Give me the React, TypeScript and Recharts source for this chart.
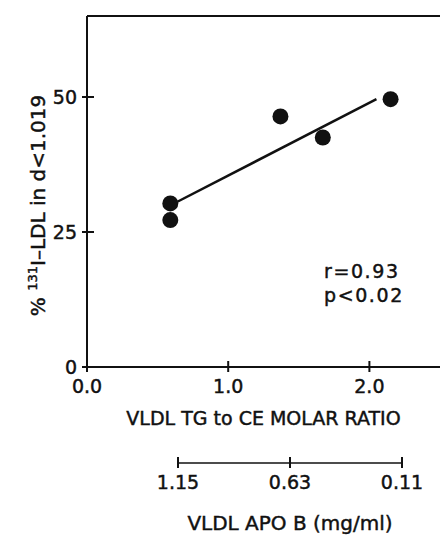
import React from "react";
import {
  ScatterChart,
  Scatter,
  XAxis,
  YAxis,
  ReferenceLine,
} from "recharts";

// measured points
const ratioX = [0.59, 0.59, 1.37, 1.67, 2.15];
const ldlPct = [30.3, 27.2, 46.4, 42.5, 49.6];

// regression line end points
const fitX = [0.64, 2.05];
const fitY = [30.6, 49.6];

const xTicks = [0, 1, 2];
const yTicks = [0, 25, 50];
const apoTicks = [0.11, 0.63, 1.15];

const points = ratioX.map((x, i) => ({ x, y: ldlPct[i] }));
const fitSegment = fitX.map((x, i) => ({ x, y: fitY[i] }));

const INK = "#111";
const FONT = "DejaVu Sans";
const BOLDISH = { stroke: INK, strokeWidth: 0.45 };

function BottomTick(props: any) {
  const { x, y, payload, digits } = props;
  return (
    <g>
      <line x1={x} x2={x} y1={y - 6} y2={y + 5} stroke={INK} strokeWidth={2} />
      <text
        x={x}
        y={y + 26}
        textAnchor="middle"
        fontFamily={FONT}
        fontSize={19}
        fill={INK}
        {...BOLDISH}
      >
        {Number(payload.value).toFixed(digits)}
      </text>
    </g>
  );
}

function LeftTick(props: any) {
  const { x, y, payload } = props;
  return (
    <g>
      <line x1={x - 5} x2={x + 7} y1={y} y2={y} stroke={INK} strokeWidth={2} />
      <text
        x={x - 10}
        y={y + 7}
        textAnchor="end"
        fontFamily={FONT}
        fontSize={19}
        fill={INK}
        {...BOLDISH}
      >
        {payload.value}
      </text>
    </g>
  );
}

function YLabel(props: any) {
  const vb = props.viewBox || { x: 0, y: 17, width: 87, height: 350 };
  const cx = vb.x + 45;
  const cy = vb.y + vb.height / 2 + 14;
  return (
    <text
      x={cx}
      y={cy}
      transform={`rotate(-90, ${cx}, ${cy})`}
      textAnchor="middle"
      fontFamily={FONT}
      fontSize={20}
      fill={INK}
      {...BOLDISH}
    >
      <tspan>% </tspan>
      <tspan fontSize={13} dy={-8}>131</tspan>
      <tspan dy={8}>I–LDL in d&lt;1.019</tspan>
    </text>
  );
}

const dot = (p: any) => <circle cx={p.cx} cy={p.cy} r={8} fill={INK} />;

export default function App() {
  return (
    <div
      style={{
        position: "absolute",
        left: 0,
        top: 0,
        width: 440,
        height: 538,
        background: "#fff",
      }}
    >
      <div style={{ position: "absolute", left: 0, top: 0 }}>
        <ScatterChart
          width={440}
          height={440}
          margin={{ top: 16, right: 0, bottom: 13, left: 0 }}
        >
          <XAxis
            type="number"
            dataKey="x"
            domain={[0, 2.5]}
            ticks={xTicks}
            tickLine={false}
            tickSize={0}
            tickMargin={0}
            tick={<BottomTick digits={1} />}
            axisLine={{ stroke: INK, strokeWidth: 2 }}
            height={60}
            label={{
              value: "VLDL TG to CE MOLAR RATIO",
              position: "insideBottom",
              offset: 2,
              fontFamily: FONT,
              fontSize: 19,
              fill: INK,
              ...BOLDISH,
            }}
          />
          <YAxis
            type="number"
            dataKey="y"
            domain={[0, 65]}
            ticks={yTicks}
            tickLine={false}
            tickSize={0}
            tickMargin={0}
            tick={<LeftTick />}
            axisLine={{ stroke: INK, strokeWidth: 2 }}
            width={87}
            label={<YLabel />}
          />
          <ReferenceLine y={65} stroke={INK} strokeWidth={2} />
          <ReferenceLine segment={fitSegment} stroke={INK} strokeWidth={2.5} />
          <Scatter data={points} shape={dot} isAnimationActive={false} />
          <text x={324} y={278} fontFamily={FONT} fontSize={19} letterSpacing={1.6} fill={INK} {...BOLDISH}>
            r=0.93
          </text>
          <text x={324} y={302} fontFamily={FONT} fontSize={19} letterSpacing={1.6} fill={INK} {...BOLDISH}>
            p&lt;0.02
          </text>
        </ScatterChart>
      </div>
      <div style={{ position: "absolute", left: 0, top: 440 }}>
        <ScatterChart
          width={440}
          height={98}
          margin={{ top: 0, right: 38, bottom: 0, left: 178 }}
        >
          <XAxis
            type="number"
            dataKey="x"
            domain={[0.11, 1.15]}
            reversed
            ticks={apoTicks}
            tickLine={false}
            tickSize={0}
            tickMargin={0}
            tick={<BottomTick digits={2} />}
            axisLine={{ stroke: INK, strokeWidth: 1.6 }}
            height={75}
            allowDataOverflow
            label={{
              value: "VLDL APO B (mg/ml)",
              position: "insideBottom",
              offset: 8,
              fontFamily: FONT,
              fontSize: 20,
              fill: INK,
              ...BOLDISH,
            }}
          />
          <YAxis type="number" dataKey="y" hide domain={[0, 1]} />
          <Scatter data={[]} isAnimationActive={false} />
        </ScatterChart>
      </div>
    </div>
  );
}
